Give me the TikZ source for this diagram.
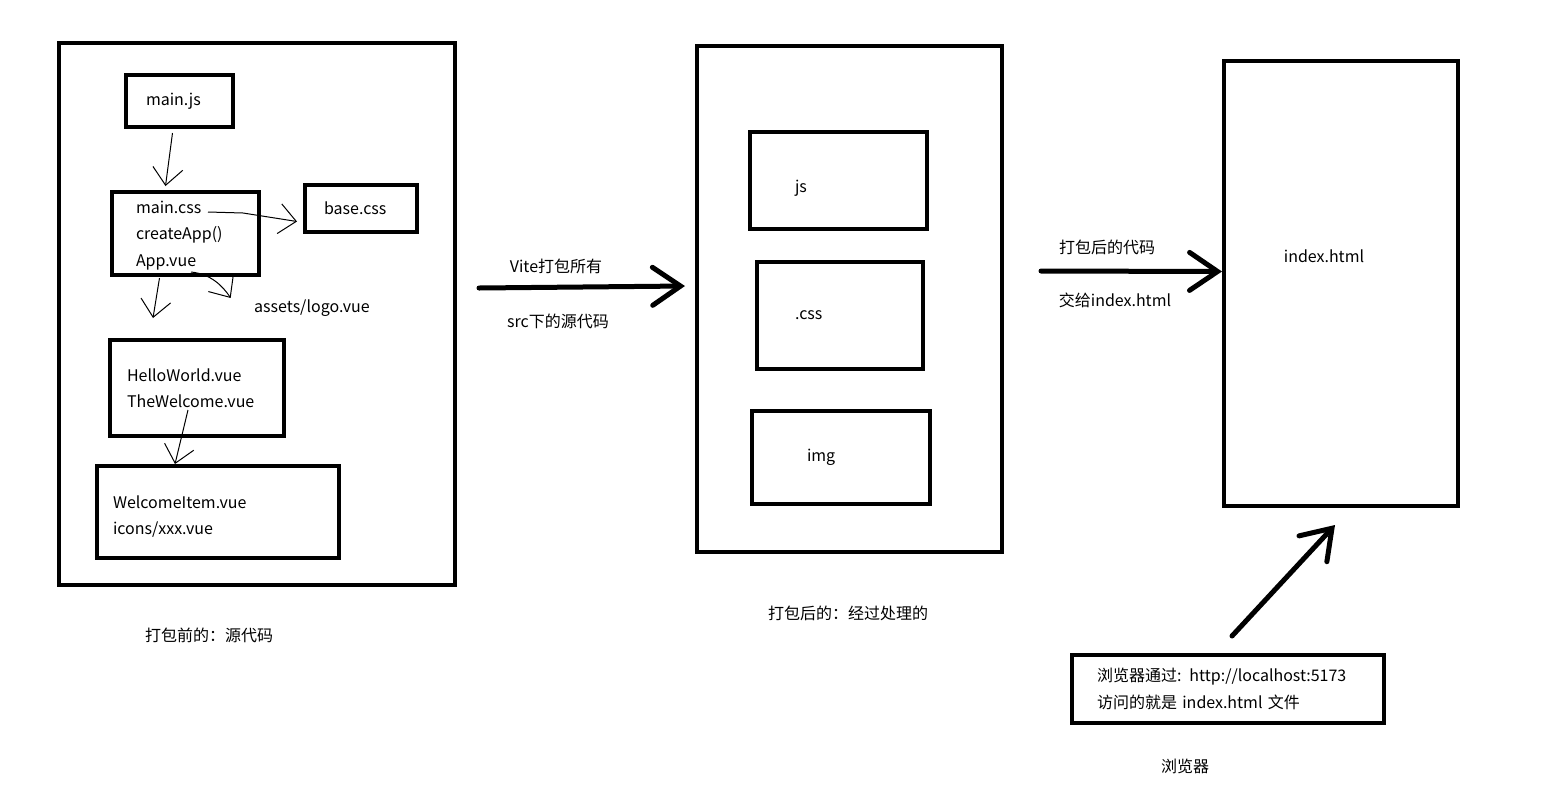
\documentclass[tikz,border=0pt]{standalone}
\usepackage{fontspec}
\setmainfont{Noto Sans CJK SC}
\usetikzlibrary{arrows.meta}

\tikzset{
  frame/.style={draw, line width=4pt, anchor=north west, inner sep=0pt, outer sep=0pt},
  filebox/.style={draw, line width=4pt, anchor=north west, align=left, inner ysep=0pt, outer sep=0pt},
  sketcharrow/.style={line width=1pt, -{Straight Barb[length=17pt,width=30pt]}},
  bigarrow/.style={line width=5pt, line cap=round, -{Straight Barb[length=28pt,width=38pt,line cap=round]}}
}

\begin{document}
\begin{tikzpicture}[x=1pt,y=-1pt,every node/.style={font=\fontsize{16}{26.5}\selectfont}]
  \useasboundingbox (0,0) rectangle (1563,804);
  % source side
  \node[frame, minimum width=396, minimum height=542] (src) at (59,43) {};
  \node[filebox, minimum width=107, minimum height=52, inner xsep=20pt, text width=67pt] (mainjs) at (126,75) {main.js};
  \node[filebox, minimum width=147, minimum height=83, inner xsep=24pt, text width=99pt] (maincss) at (112,192) {\rule{0pt}{16pt}main.css\\createApp()\\App.vue};
  \node[filebox, minimum width=112, minimum height=47, inner xsep=19pt, text width=74pt] (basecss) at (305,185) {base.css};
  \node (logo) at (312,308) {assets/logo.vue};
  \node[filebox, minimum width=174, minimum height=96, inner xsep=17pt, text width=140pt] (hello) at (110,340) {HelloWorld.vue\\TheWelcome.vue};
  \node[filebox, minimum width=242, minimum height=92, inner xsep=16pt, text width=210pt] (welcome) at (97,466) {\rule{0pt}{22pt}WelcomeItem.vue\\icons/xxx.vue};
  \node (srccap) at (209,635) {打包前的：源代码};
  \coordinate (cssline) at (208,212);
  \coordinate (appline) at (191,272);
  \draw[sketcharrow] ([xshift=-7pt,yshift=-6pt]mainjs.south) -- ([xshift=-20pt,yshift=6pt]maincss.north);
  \draw[sketcharrow] (cssline) -- ++(35,1) -- ([xshift=-8pt,yshift=-13pt]basecss.west);
  \draw[sketcharrow] ([xshift=-26pt,yshift=-3pt]maincss.south) -- ([xshift=-44pt,yshift=22pt]hello.north);
  \draw[sketcharrow] (appline) .. controls ++(20,2) and ++(-8,-12) .. ([xshift=-20pt,yshift=10pt]logo.west);
  \draw[sketcharrow] ([xshift=-9pt,yshift=-22pt]hello.center) -- ([xshift=-43pt,yshift=2pt]welcome.north);

  % bundled side
  \node[frame, minimum width=305, minimum height=506] (dist) at (697,46) {};
  \node[filebox, minimum width=177, minimum height=97, inner xsep=45pt, text width=87pt] (jsbox) at (750,132) {\rule{0pt}{28pt}js};
  \node[filebox, minimum width=166, minimum height=107, inner xsep=38pt, text width=90pt] (cssbox) at (757,262) {.css};
  \node[filebox, minimum width=178, minimum height=93, inner xsep=55pt, text width=68pt] (imgbox) at (752,411) {img};
  \node (distcap) at (848,613) {打包后的：经过处理的};
  \draw[bigarrow] ([xshift=24pt,yshift=26pt]src.east) -- ([xshift=-12pt,yshift=13pt]dist.west);
  \node (vite1) at (556,266) {Vite打包所有};
  \node (vite2) at (558,321) {src下的源代码};

  % browser side
  \node[frame, minimum width=234, minimum height=445] (index) at (1224,61) {};
  \node (indexlbl) at (1324,256) {index.html};
  \node[filebox, minimum width=312, minimum height=68, inner xsep=25pt, text width=262pt] (browser) at (1072,655) {浏览器通过: http://localhost:5173\\访问的就是 index.html 文件};
  \node (browsercap) at (1185,766) {浏览器};
  \draw[bigarrow] ([xshift=39pt,yshift=28pt]dist.east) -- ([xshift=-2pt,yshift=12pt]index.west);
  \node (hand1) at (1107,247) {打包后的代码};
  \node (hand2) at (1115,300) {交给index.html};
  \draw[bigarrow] ([xshift=4pt,yshift=19pt]browser.north) -- ([xshift=-6pt,yshift=-19pt]index.south);
\end{tikzpicture}
\end{document}
